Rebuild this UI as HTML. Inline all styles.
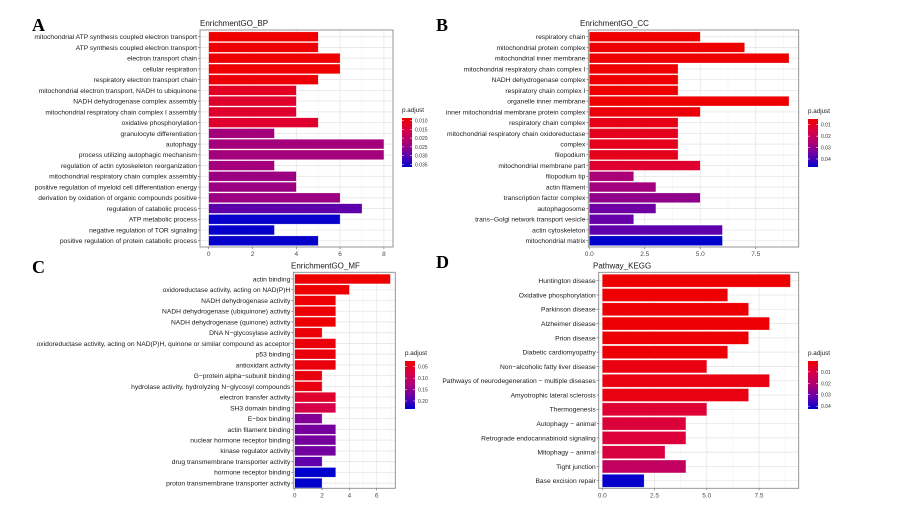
<!DOCTYPE html>
<html><head><meta charset="utf-8"><style>
body{margin:0;background:#fff;}
svg{display:block;font-family:"Liberation Sans",sans-serif;}
</style></head><body>
<svg id="fig" width="921" height="507" xmlns="http://www.w3.org/2000/svg">
<defs>
<linearGradient id="cb" x1="0" y1="0" x2="0" y2="1">
<stop offset="0" stop-color="#ee0000"/><stop offset="0.25" stop-color="#d70046"/><stop offset="0.5" stop-color="#aa0078"/><stop offset="0.75" stop-color="#6400aa"/><stop offset="1" stop-color="#0000cc"/>
</linearGradient>
</defs>
</svg>
<script>
const bpLabels=["mitochondrial ATP synthesis coupled electron transport","ATP synthesis coupled electron transport","electron transport chain","cellular respiration","respiratory electron transport chain","mitochondrial electron transport, NADH to ubiquinone","NADH dehydrogenase complex assembly","mitochondrial respiratory chain complex I assembly","oxidative phosphorylation","granulocyte differentiation","autophagy","process utilizing autophagic mechanism","regulation of actin cytoskeleton reorganization","mitochondrial respiratory chain complex assembly","positive regulation of myeloid cell differentiation energy","derivation by oxidation of organic compounds positive","regulation of catabolic process","ATP metabolic process","negative regulation of TOR signaling","positive regulation of protein catabolic process"];
const bpCounts=[5,5,6,6,5,4,4,4,5,3,8,8,3,4,4,6,7,6,3,5];
const bpPadj=[0.008,0.008,0.008,0.008,0.009,0.012,0.013,0.013,0.013,0.023,0.023,0.023,0.023,0.024,0.024,0.024,0.030,0.036,0.036,0.036];
const bpTicks=[0,2,4,6,8];
const bpLegend=["0.010","0.015","0.020","0.025","0.030","0.035"];

const ccLabels=["respiratory chain","mitochondrial protein complex","mitochondrial inner membrane","mitochondrial respiratory chain complex I","NADH dehydrogenase complex","respiratory chain complex I","organelle inner membrane","inner mitochondrial membrane protein complex","respiratory chain complex","mitochondrial respiratory chain oxidoreductase","complex","filopodium","mitochondrial membrane part","filopodium tip","actin filament","transcription factor complex","autophagosome","trans\u2212Golgi network transport vesicle","actin cytoskeleton","mitochondrial matrix"];
const ccCounts=[5,7,9,4,4,4,9,5,4,4,4,4,5,2,3,5,3,2,6,6];
const ccPadj=[0.005,0.005,0.005,0.005,0.005,0.005,0.005,0.006,0.008,0.009,0.009,0.009,0.012,0.026,0.027,0.030,0.035,0.036,0.037,0.047];
const ccTicks=["0.0","2.5","5.0","7.5"];
const ccLegend=["0.01","0.02","0.03","0.04"];

const mfLabels=["actin binding","oxidoreductase activity, acting on NAD(P)H","NADH dehydrogenase activity","NADH dehydrogenase (ubiquinone) activity","NADH dehydrogenase (quinone) activity","DNA N\u2212glycosylase activity","oxidoreductase activity, acting on NAD(P)H, quinone or similar compound as acceptor","p53 binding","antioxidant activity","G\u2212protein alpha\u2212subunit binding","hydrolase activity, hydrolyzing N\u2212glycosyl compounds","electron transfer activity","SH3 domain binding","E\u2212box binding","actin filament binding","nuclear hormone receptor binding","kinase regulator activity","drug transmembrane transporter activity","hormone receptor binding","proton transmembrane transporter activity"];
const mfCounts=[7,4,3,3,3,2,3,3,3,2,2,3,3,2,3,3,3,2,3,2];
const mfPadj=[0.025,0.026,0.027,0.027,0.027,0.030,0.033,0.033,0.034,0.036,0.036,0.058,0.080,0.160,0.170,0.170,0.172,0.185,0.235,0.235];
const mfTicks=[0,2,4,6];
const mfLegend=["0.05","0.10","0.15","0.20"];

const keggLabels=["Huntington disease","Oxidative phosphorylation","Parkinson disease","Alzheimer disease","Prion disease","Diabetic cardiomyopathy","Non\u2212alcoholic fatty liver disease","Pathways of neurodegeneration \u2212 multiple diseases","Amyotrophic lateral sclerosis","Thermogenesis","Autophagy \u2212 animal","Retrograde endocannabinoid signaling","Mitophagy \u2212 animal","Tight junction","Base excision repair"];
const keggCounts=[9,6,7,8,7,6,5,8,7,5,4,4,3,4,2];
const keggPadj=[0.0005,0.0005,0.001,0.001,0.001,0.001,0.003,0.003,0.003,0.008,0.009,0.009,0.010,0.016,0.042];
const keggTicks=["0.0","2.5","5.0","7.5"];
const keggLegend=["0.01","0.02","0.03","0.04"];

const NS="http://www.w3.org/2000/svg";
const svg=document.getElementById('fig');
function mk(tag,attrs,parent){const e=document.createElementNS(NS,tag);for(const k in attrs)e.setAttribute(k,attrs[k]);(parent||svg).appendChild(e);return e;}
function lerp(a,b,t){return Math.round(a+(b-a)*t);}
const STOPS=[[238,0,0],[215,0,70],[170,0,120],[100,0,170],[0,0,204]];
function colorFor(t){t=Math.max(0,Math.min(1,t));
 const n=STOPS.length-1; let i=Math.min(n-1,Math.floor(t*n)); const u=t*n-i;
 const a=STOPS[i],b=STOPS[i+1];
 return `rgb(${lerp(a[0],b[0],u)},${lerp(a[1],b[1],u)},${lerp(a[2],b[2],u)})`;}

function panel(cfg){
 const g=mk('g',{});
 
 
 const {L,R,T,B,x0,k,y0,step,labels,counts,padj,ticks,tickVals,pLo,pHi}=cfg;
 const X=v=>x0+v*k;
 const Y=i=>y0+i*step;
 mk('rect',{x:L,y:T,width:R-L,height:B-T,fill:'#fff'},g);
 for(let i=0;i<tickVals.length;i++){
   const mv=tickVals[i]+(tickVals[1]-tickVals[0])/2; const mx=X(mv);
   if(mx<R){mk('line',{x1:mx,x2:mx,y1:T,y2:B,stroke:'#f2f2f2','stroke-width':0.5},g);}
 }
 tickVals.forEach((v,i)=>{
   const gl=mk('line',{x1:X(v),x2:X(v),y1:T,y2:B,stroke:'#e6e6e6','stroke-width':0.8},g);
   
   mk('line',{x1:X(v),x2:X(v),y1:B,y2:B+2,stroke:'#555','stroke-width':0.6},g);
   const tl=mk('text',{x:X(v),y:B+9,'font-size':6.5,'text-anchor':'middle',fill:'#4d4d4d'},g);
   tl.textContent=ticks[i];
   
   
 });
 labels.forEach((lab,i)=>{
   const y=Y(i);
   mk('line',{x1:L,x2:R,y1:y,y2:y,stroke:'#e6e6e6','stroke-width':0.8},g);
 });
 const bh=step*0.9;
 labels.forEach((lab,i)=>{
   const y=Y(i);
   const r=mk('rect',{x:X(0),y:y-bh/2,width:X(counts[i])-X(0),height:bh,fill:colorFor((padj[i]-pLo)/(pHi-pLo)),stroke:'rgba(255,255,255,0.5)','stroke-width':0.5},g);
   
   
   mk('line',{x1:L-2,x2:L,y1:y,y2:y,stroke:'#555','stroke-width':0.6},g);
   const t=mk('text',{x:L-3,y:y+2.4,'font-size':6.7,'text-anchor':'end',fill:'#1a1a1a'},g);
   t.textContent=lab;
   
   
 });
 const bd=mk('rect',{x:L,y:T,width:R-L,height:B-T,fill:'none',stroke:'#8a8a8a','stroke-width':0.9},g);
 
 const ti=mk('text',{x:cfg.titleX,y:T-4,'font-size':8,fill:'#1a1a1a'},g);
 ti.textContent=cfg.title;
 
 
 const let_=mk('text',{x:cfg.letX,y:cfg.letY,'font-size':18,'font-weight':'bold','font-family':'Liberation Serif, serif',fill:'#000'},g);
 let_.textContent=cfg.letter;
 
 
 const lg=cfg.leg;
 const lt=mk('text',{x:lg.x,y:lg.y-6,'font-size':6.3,fill:'#1a1a1a'},g);
 lt.textContent='p.adjust';
 
 
 const cbar=mk('rect',{x:lg.x,y:lg.y,width:10,height:lg.h,fill:'url(#cb)'},g);
 
 
 lg.labels.forEach((s,i)=>{
   const v=parseFloat(s); const yy=lg.y+lg.h*(v-pLo)/(pHi-pLo);
   mk('line',{x1:lg.x,x2:lg.x+2,y1:yy,y2:yy,stroke:'#fff','stroke-width':0.5},g);
   mk('line',{x1:lg.x+8,x2:lg.x+10,y1:yy,y2:yy,stroke:'#fff','stroke-width':0.5},g);
   const t=mk('text',{x:lg.x+13,y:yy+2,'font-size':5,fill:'#333'},g);
   t.textContent=s;
   
   
 });
}
panel({name:'panel-bp',letter:'A',letX:32,letY:31,title:'EnrichmentGO_BP',titleX:200,L:200,R:393,T:30,B:247,x0:208.7,k:21.9,y0:36.7,step:10.74,
 labels:bpLabels,counts:bpCounts,padj:bpPadj,ticks:bpTicks,tickVals:bpTicks,pLo:0.0085,pHi:0.0365,
 leg:{x:402,y:118,h:49,labels:bpLegend}});
panel({name:'panel-cc',letter:'B',letX:436,letY:31,title:'EnrichmentGO_CC',titleX:580,L:588.3,R:798.7,T:30,B:247,x0:589.3,k:22.19,y0:36.7,step:10.74,
 labels:ccLabels,counts:ccCounts,padj:ccPadj,ticks:ccTicks,tickVals:ccTicks.map(Number),pLo:0.005,pHi:0.047,
 leg:{x:808,y:119,h:48,labels:ccLegend}});
panel({name:'panel-mf',letter:'C',letX:32,letY:273,title:'EnrichmentGO_MF',titleX:291,L:293.3,R:395.3,T:272.3,B:488.3,x0:294.7,k:13.67,y0:279,step:10.74,
 labels:mfLabels,counts:mfCounts,padj:mfPadj,ticks:mfTicks,tickVals:mfTicks,pLo:0.025,pHi:0.235,
 leg:{x:405,y:361,h:48,labels:mfLegend}});
panel({name:'panel-kegg',letter:'D',letX:436,letY:268,title:'Pathway_KEGG',titleX:593,L:598.7,R:798.7,T:272.3,B:488.3,x0:602.3,k:20.9,y0:280.7,step:14.29,
 labels:keggLabels,counts:keggCounts,padj:keggPadj,ticks:keggTicks,tickVals:keggTicks.map(Number),pLo:0.0005,pHi:0.0425,
 leg:{x:808,y:361,h:48,labels:keggLegend}});
</script>
</body></html>
